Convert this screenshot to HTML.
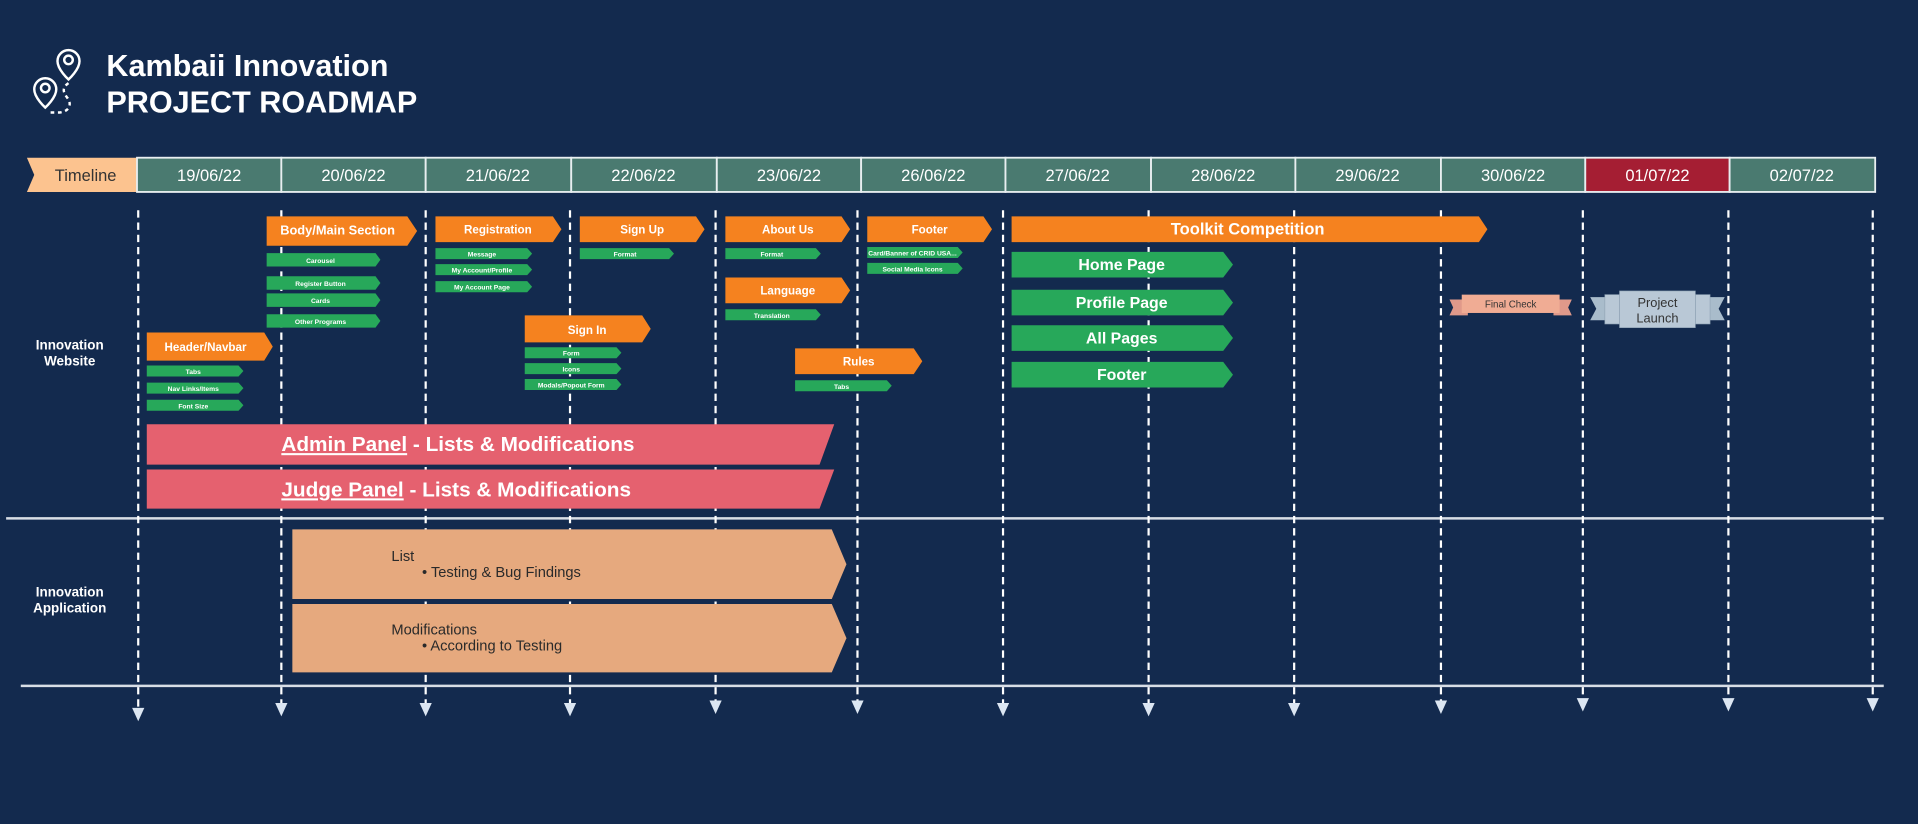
<!DOCTYPE html>
<html><head><meta charset="utf-8"><style>
html,body{margin:0;padding:0;background:#132a4e;overflow:hidden}
svg{display:block}
text{font-family:"Liberation Sans",sans-serif}
</style></head><body>
<svg width="1918" height="824" viewBox="0 0 1568 674" preserveAspectRatio="none" xmlns="http://www.w3.org/2000/svg">
<rect width="1568" height="674" fill="#132a4e"/>
<!-- title icon -->
<g fill="none" stroke="#fff" stroke-width="2">
<path d="M65 50 a9 9 0 1 0 -18 0 c0 7 9 15 9 15 c0 0 9 -8 9 -15z"/><circle cx="56" cy="49" r="3.5"/>
<path d="M46 73 a9 9 0 1 0 -18 0 c0 7 9 15 9 15 c0 0 9 -8 9 -15z"/><circle cx="37" cy="72" r="3.5"/>
<path d="M56 68 c-6 4 -4 8 -1 12 c4 5 2 11 -6 12 l-10 0" stroke-dasharray="3 3"/>
</g>
<text x="87" y="62" fill="#fff" font-size="25" font-weight="bold">Kambaii Innovation</text>
<text x="87" y="92" fill="#fff" font-size="25" font-weight="bold">PROJECT ROADMAP</text>
<!-- header -->
<polygon points="22,129 112,129 112,157 22,157 28,143" fill="#fcc38f"/>
<text x="70" y="148" fill="#333" font-size="13.5" text-anchor="middle">Timeline</text>
<g stroke="#e8eef0" stroke-width="1.5" font-size="13.5" text-anchor="middle">
<rect x="112" y="129" width="118" height="28" fill="#4a7a70"/>
<rect x="230" y="129" width="118" height="28" fill="#4a7a70"/>
<rect x="348" y="129" width="119" height="28" fill="#4a7a70"/>
<rect x="467" y="129" width="119" height="28" fill="#4a7a70"/>
<rect x="586" y="129" width="118" height="28" fill="#4a7a70"/>
<rect x="704" y="129" width="118" height="28" fill="#4a7a70"/>
<rect x="822" y="129" width="119" height="28" fill="#4a7a70"/>
<rect x="941" y="129" width="118" height="28" fill="#4a7a70"/>
<rect x="1059" y="129" width="119" height="28" fill="#4a7a70"/>
<rect x="1178" y="129" width="118" height="28" fill="#4a7a70"/>
<rect x="1296" y="129" width="118" height="28" fill="#a51e33"/>
<rect x="1414" y="129" width="119" height="28" fill="#4a7a70"/>
</g>
<g fill="#fff" font-size="13.5" text-anchor="middle">
<text x="171" y="148">19/06/22</text><text x="289" y="148">20/06/22</text><text x="407" y="148">21/06/22</text>
<text x="526" y="148">22/06/22</text><text x="645" y="148">23/06/22</text><text x="763" y="148">26/06/22</text>
<text x="881" y="148">27/06/22</text><text x="1000" y="148">28/06/22</text><text x="1118" y="148">29/06/22</text>
<text x="1237" y="148">30/06/22</text><text x="1355" y="148">01/07/22</text><text x="1473" y="148">02/07/22</text>
</g>
<!-- horizontal lines -->
<line x1="5" y1="424" x2="1540" y2="424" stroke="#d8dee6" stroke-width="2"/>
<line x1="17" y1="561" x2="1540" y2="561" stroke="#d8dee6" stroke-width="2"/>
<!-- dashed lines -->
<g stroke="#fff" stroke-width="1.8" stroke-dasharray="6 4">
<line x1="113" y1="172" x2="113" y2="580"/><line x1="230" y1="172" x2="230" y2="576"/>
<line x1="348" y1="172" x2="348" y2="576"/><line x1="466" y1="172" x2="466" y2="576"/>
<line x1="585" y1="172" x2="585" y2="574"/><line x1="701" y1="172" x2="701" y2="574"/>
<line x1="820" y1="172" x2="820" y2="576"/><line x1="939" y1="172" x2="939" y2="576"/>
<line x1="1058" y1="172" x2="1058" y2="576"/><line x1="1178" y1="172" x2="1178" y2="574"/>
<line x1="1294" y1="172" x2="1294" y2="572"/><line x1="1413" y1="172" x2="1413" y2="572"/>
<line x1="1531" y1="172" x2="1531" y2="572"/>
</g>
<g fill="#dce6f2">
<polygon points="108,579 118,579 113,590"/><polygon points="225,575 235,575 230,586"/>
<polygon points="343,575 353,575 348,586"/><polygon points="461,575 471,575 466,586"/>
<polygon points="580,573 590,573 585,584"/><polygon points="696,573 706,573 701,584"/>
<polygon points="815,575 825,575 820,586"/><polygon points="934,575 944,575 939,586"/>
<polygon points="1053,575 1063,575 1058,586"/><polygon points="1173,573 1183,573 1178,584"/>
<polygon points="1289,571 1299,571 1294,582"/><polygon points="1408,571 1418,571 1413,582"/>
<polygon points="1526,571 1536,571 1531,582"/>
</g>
<!-- row labels -->
<g fill="#fff" font-size="11" font-weight="bold" text-anchor="middle">
<text x="57" y="286">Innovation</text><text x="57" y="299">Website</text>
<text x="57" y="488">Innovation</text><text x="57" y="501">Application</text>
</g>
<!-- orange bars -->
<g fill="#f5821f">
<polygon points="218,177 333,177 341,189 333,201 218,201"/>
<polygon points="356,177 452,177 459,187.5 452,198 356,198"/>
<polygon points="474,177 569,177 576,187.5 569,198 474,198"/>
<polygon points="593,177 688,177 695,187.5 688,198 593,198"/>
<polygon points="709,177 804,177 811,187.5 804,198 709,198"/>
<polygon points="827,177 1209,177 1216,187.5 1209,198 827,198"/>
<polygon points="593,227 688,227 695,237.5 688,248 593,248"/>
<polygon points="429,258 525,258 532,269 525,280 429,280"/>
<polygon points="120,272 216,272 223,283.5 216,295 120,295"/>
<polygon points="650,285 747,285 754,295.5 747,306 650,306"/>
</g>
<g fill="#fff" font-size="9.5" text-anchor="middle" font-weight="bold">
<text x="276" y="192" font-size="10.5">Body/Main Section</text>
<text x="407" y="191">Registration</text><text x="525" y="191">Sign Up</text>
<text x="644" y="191">About Us</text><text x="760" y="191">Footer</text>
<text x="1020" y="192" font-size="13.5">Toolkit Competition</text>
<text x="644" y="241">Language</text><text x="480" y="273">Sign In</text>
<text x="168" y="287">Header/Navbar</text><text x="702" y="299">Rules</text>
</g>
<!-- green small bars -->
<g fill="#27a85a">
<polygon points="218,207 307,207 311,212.5 307,218 218,218"/>
<polygon points="218,226 307,226 311,231.5 307,237 218,237"/>
<polygon points="218,240 307,240 311,245.5 307,251 218,251"/>
<polygon points="218,257 307,257 311,262.5 307,268 218,268"/>
<polygon points="356,203 431,203 435,207.5 431,212 356,212"/>
<polygon points="356,216 431,216 435,220.5 431,225 356,225"/>
<polygon points="356,230 431,230 435,234.5 431,239 356,239"/>
<polygon points="474,203 547,203 551,207.5 547,212 474,212"/>
<polygon points="593,203 667,203 671,207.5 667,212 593,212"/>
<polygon points="709,202 783,202 787,206.5 783,211 709,211"/>
<polygon points="709,215 783,215 787,219.5 783,224 709,224"/>
<polygon points="593,253 667,253 671,257.5 667,262 593,262"/>
<polygon points="429,284 504,284 508,288.5 504,293 429,293"/>
<polygon points="429,297 504,297 508,301.5 504,306 429,306"/>
<polygon points="429,310 504,310 508,314.5 504,319 429,319"/>
<polygon points="120,299 195,299 199,303.5 195,308 120,308"/>
<polygon points="120,313 195,313 199,317.5 195,322 120,322"/>
<polygon points="120,327 195,327 199,331.5 195,336 120,336"/>
<polygon points="650,311 725,311 729,315.5 725,320 650,320"/>
</g>
<g fill="#fff" font-size="5.5" text-anchor="middle" font-weight="bold">
<text x="262" y="215">Carousel</text><text x="262" y="234">Register Button</text>
<text x="262" y="248">Cards</text><text x="262" y="265">Other Programs</text>
<text x="394" y="210">Message</text><text x="394" y="223">My Account/Profile</text><text x="394" y="237">My Account Page</text>
<text x="511" y="210">Format</text><text x="631" y="210">Format</text>
<text x="746" y="209">Card/Banner of CRID USA...</text><text x="746" y="222">Social Media Icons</text>
<text x="631" y="260">Translation</text>
<text x="467" y="291">Form</text><text x="467" y="304">Icons</text><text x="467" y="317">Modals/Popout Form</text>
<text x="158" y="306">Tabs</text><text x="158" y="320">Nav Links/Items</text><text x="158" y="334">Font Size</text>
<text x="688" y="318">Tabs</text>
</g>
<!-- big green -->
<g fill="#27a85a">
<polygon points="827,206 1000,206 1008,216.5 1000,227 827,227"/>
<polygon points="827,237 1000,237 1008,247.5 1000,258 827,258"/>
<polygon points="827,266 1000,266 1008,276.5 1000,287 827,287"/>
<polygon points="827,296 1000,296 1008,306.5 1000,317 827,317"/>
</g>
<g fill="#fff" font-size="13" text-anchor="middle" font-weight="bold">
<text x="917" y="221">Home Page</text><text x="917" y="252">Profile Page</text>
<text x="917" y="281">All Pages</text><text x="917" y="311">Footer</text>
</g>
<!-- ribbons -->
<polygon points="1185,245 1200,245 1200,258 1185,258 1188,251.5" fill="#e0998a"/>
<polygon points="1285,245 1270,245 1270,258 1285,258 1282,251.5" fill="#e0998a"/>
<rect x="1195" y="241" width="80" height="15" fill="#f0ac94"/>
<text x="1235" y="251.5" fill="#333" font-size="8" text-anchor="middle">Final Check</text>
<polygon points="1300,243 1314,243 1314,262 1300,262 1305,252.5" fill="#a9bccb"/>
<polygon points="1410,243 1396,243 1396,262 1410,262 1405,252.5" fill="#a9bccb"/>
<rect x="1312" y="241" width="12" height="24" fill="#b9c8d6" stroke="#8ea2b4" stroke-width="0.5"/>
<rect x="1386" y="241" width="12" height="24" fill="#b9c8d6" stroke="#8ea2b4" stroke-width="0.5"/>
<rect x="1324" y="238" width="62" height="30" fill="#b9c8d6" stroke="#8ea2b4" stroke-width="0.5"/>
<text x="1355" y="251" fill="#333" font-size="10.5" text-anchor="middle">Project</text>
<text x="1355" y="264" fill="#333" font-size="10.5" text-anchor="middle">Launch</text>
<!-- pink bars -->
<polygon points="120,347 682,347 670,380 120,380" fill="#e5616f"/>
<polygon points="120,384 682,384 670,416 120,416" fill="#e5616f"/>
<g fill="#fff" font-size="17" font-weight="bold">
<text x="230" y="369"><tspan text-decoration="underline">Admin Panel</tspan> - Lists &amp; Modifications</text>
<text x="230" y="406"><tspan text-decoration="underline">Judge Panel</tspan> - Lists &amp; Modifications</text>
</g>
<!-- peach app bars -->
<polygon points="239,433 680,433 692,461.5 680,490 239,490" fill="#e6a97e"/>
<polygon points="239,494 680,494 692,522 680,550 239,550" fill="#e6a97e"/>
<g fill="#2a2a2a" font-size="12">
<text x="320" y="459">List</text><text x="345" y="472">• Testing &amp; Bug Findings</text>
<text x="320" y="519">Modifications</text><text x="345" y="532">• According to Testing</text>
</g>
</svg>
</body></html>
